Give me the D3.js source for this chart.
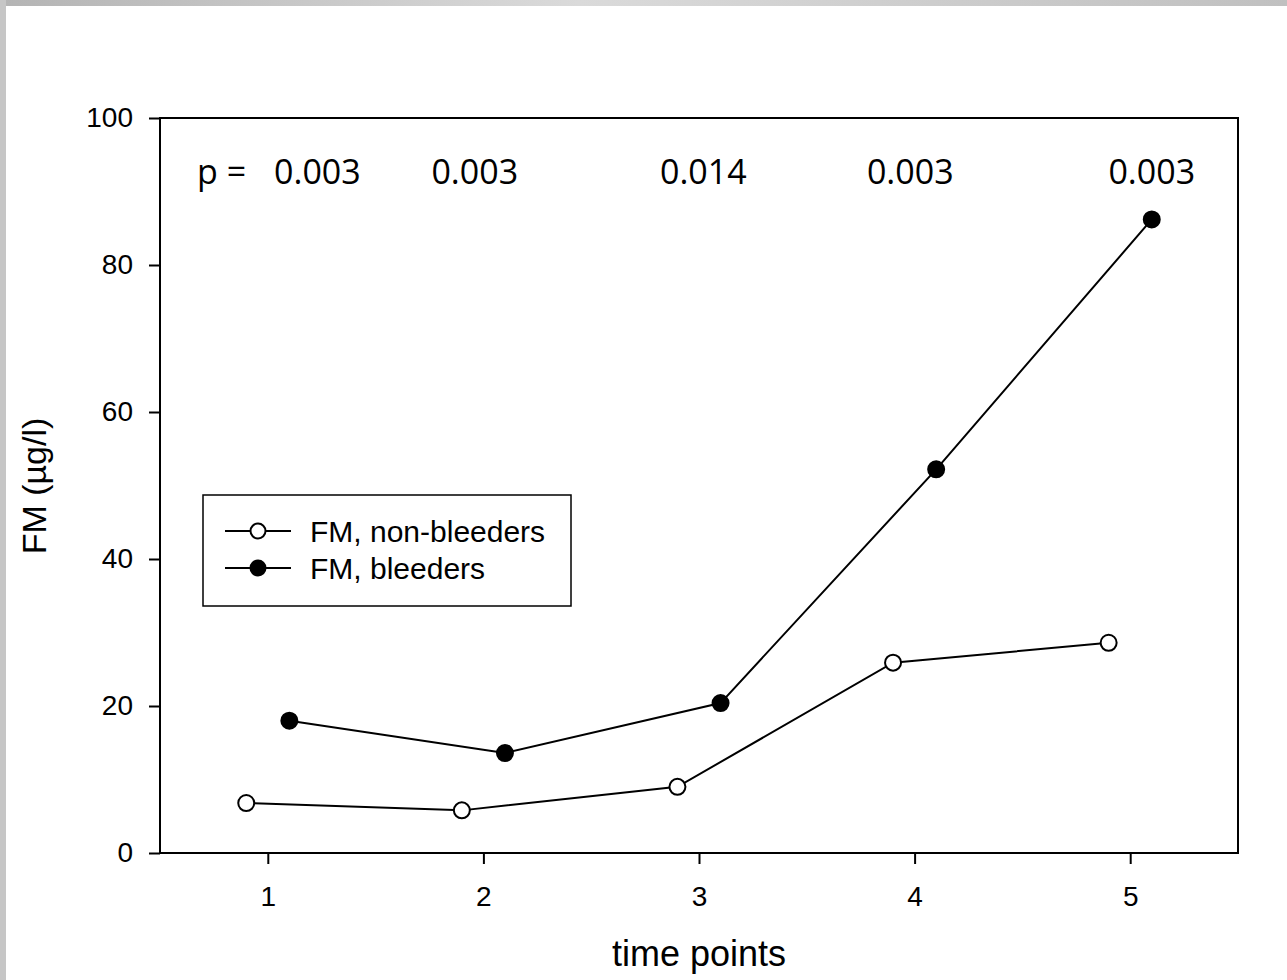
<!DOCTYPE html>
<html>
<head>
<meta charset="utf-8">
<script src="https://cdn.jsdelivr.net/npm/d3@7"></script>
<style>
  html, body { margin: 0; padding: 0; background: #fff; }
  svg { display: block; }
</style>
</head>
<body>
<svg id="chart" width="1287" height="980"></svg>
<script>
// ---- data ----
const timePoints = [1, 2, 3, 4, 5];
const nonBleeders = [6.8, 5.8, 9.0, 25.9, 28.6];
const bleeders = [18.0, 13.6, 20.4, 52.2, 86.2];
const pValues = ["0.003", "0.003", "0.014", "0.003", "0.003"];
const yTicks = [0, 20, 40, 60, 80, 100];
const xTicks = [1, 2, 3, 4, 5];
const seriesNames = ["FM, non-bleeders", "FM, bleeders"];
const offsets = [-0.1, 0.1];

(function () {
const svg = d3.select("#chart");
const W = 1287, H = 980;

// background strips
const defs = svg.append("defs");
const grad = defs.append("linearGradient").attr("id", "topgrad").attr("x1", "0%").attr("x2", "100%");
grad.append("stop").attr("offset", "0%").attr("stop-color", "#b4b4b4");
grad.append("stop").attr("offset", "45%").attr("stop-color", "#dadada");
grad.append("stop").attr("offset", "100%").attr("stop-color", "#c0c0c0");
svg.append("rect").attr("x", 0).attr("y", 0).attr("width", W).attr("height", 6).attr("fill", "url(#topgrad)");
svg.append("rect").attr("x", 0).attr("y", 0).attr("width", 6).attr("height", H).attr("fill", "#c6c6c6");

const pL = 160, pR = 1238, pT = 118, pB = 853;
const x = d3.scaleLinear().domain([0.5, 5.5]).range([pL, pR]);
const y = d3.scaleLinear().domain([0, 100]).range([pB, pT]);

const axisFont = "'Liberation Sans', Arial, sans-serif";

// frame
svg.append("rect").attr("x", pL).attr("y", pT).attr("width", pR - pL).attr("height", pB - pT)
  .attr("fill", "none").attr("stroke", "#000").attr("stroke-width", 2);

// y axis
const yAxis = svg.append("g").attr("transform", `translate(${pL},0)`)
  .call(d3.axisLeft(y).tickValues(yTicks).tickSize(11).tickPadding(16).tickFormat(d3.format("d")));
yAxis.select(".domain").remove();
yAxis.selectAll("line").attr("stroke", "#000").attr("stroke-width", 2);
yAxis.selectAll("text").attr("font-family", axisFont).attr("font-size", 28).attr("fill", "#000");

// x axis
const xAxis = svg.append("g").attr("transform", `translate(0,${pB})`)
  .call(d3.axisBottom(x).tickValues(xTicks).tickSize(11).tickPadding(22).tickFormat(d3.format("d")));
xAxis.select(".domain").remove();
xAxis.selectAll("line").attr("stroke", "#000").attr("stroke-width", 2);
xAxis.selectAll("text").attr("font-family", axisFont).attr("font-size", 28).attr("fill", "#000");

// axis titles
svg.append("text").attr("x", (pL + pR) / 2).attr("y", 966).attr("text-anchor", "middle")
  .attr("font-family", axisFont).attr("font-size", 36).text("time points");
svg.append("text").attr("transform", `translate(46,486) rotate(-90)`).attr("text-anchor", "middle")
  .attr("font-family", axisFont).attr("font-size", 34).text("FM (µg/l)");

// series
const series = [
  { name: seriesNames[0], values: nonBleeders, fill: "#fff", off: offsets[0] },
  { name: seriesNames[1], values: bleeders, fill: "#000", off: offsets[1] }
];
const line = d3.line().x(d => x(d[0])).y(d => y(d[1]));
series.forEach(s => {
  const pts = timePoints.map((t, i) => [t + s.off, s.values[i]]);
  svg.append("path").attr("d", line(pts)).attr("fill", "none").attr("stroke", "#000").attr("stroke-width", 2);
  svg.selectAll(null).data(pts).enter().append("circle")
    .attr("cx", d => x(d[0])).attr("cy", d => y(d[1])).attr("r", 8)
    .attr("fill", s.fill).attr("stroke", "#000").attr("stroke-width", 2);
});

// p-values
const pFont = "'Open Sans', sans-serif";
const pShift = [0.23, -0.04, 0.02, -0.02, 0.1];
svg.append("text").attr("x", 197).attr("y", 184).attr("font-family", pFont).attr("font-size", 34).text("p =");
svg.selectAll(null).data(pValues).enter().append("text")
  .attr("x", (d, i) => x(timePoints[i] + pShift[i]))
  .attr("y", 184).attr("text-anchor", "middle").attr("font-family", pFont).attr("font-size", 34).text(d => d);

// legend
const lg = svg.append("g");
lg.append("rect").attr("x", 203).attr("y", 495).attr("width", 368).attr("height", 111)
  .attr("fill", "#fff").attr("stroke", "#000").attr("stroke-width", 1.5);
series.forEach((s, i) => {
  const ly = 531 + i * 37;
  lg.append("line").attr("x1", 225).attr("x2", 291).attr("y1", ly).attr("y2", ly).attr("stroke", "#000").attr("stroke-width", 2);
  lg.append("circle").attr("cx", 258).attr("cy", ly).attr("r", 7.5).attr("fill", s.fill).attr("stroke", "#000").attr("stroke-width", 2);
  lg.append("text").attr("x", 310).attr("y", ly + 11).attr("font-family", axisFont).attr("font-size", 30).text(s.name);
});
})();
</script>
</body>
</html>
